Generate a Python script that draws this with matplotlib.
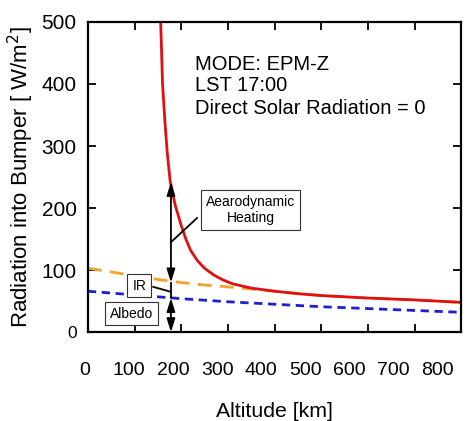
import matplotlib
matplotlib.use('Agg')
import matplotlib.pyplot as plt

plt.rcParams['font.family'] = ['Liberation Sans', 'DejaVu Sans']

# total (aerodynamic + IR + albedo)
alt_total = [156, 160, 165, 170, 176, 187, 200, 210, 220, 235, 250, 270, 290, 310, 350,
             400, 450, 500, 600, 700, 800]
total = [500, 400, 340, 290, 245, 205, 172, 150, 132, 115, 103, 92, 84, 78, 71,
         66, 62, 59, 55, 52, 48]

# IR + albedo
alt_ir = [0, 50, 100, 150, 200, 250, 300, 330, 400, 500, 600, 700, 800]
ir = [103, 97, 91, 85, 80, 76, 73, 71, 66, 59, 55, 52, 48]

# albedo
alt_alb = [0, 100, 200, 300, 400, 500, 600, 700, 800]
albedo = [66, 60, 54, 49, 45, 41, 38, 35, 32]

xticks = [0, 100, 200, 300, 400, 500, 600, 700, 800]
yticks = [0, 100, 200, 300, 400, 500]

fig = plt.figure(figsize=(4.75, 4.21), dpi=100)
ax = fig.add_axes([0.185, 0.211, 0.786, 0.737])

ax.plot(alt_alb, albedo, color='#1f1fcc', lw=2, ls=(0, (3, 2)))
ax.plot(alt_ir, ir, color='#f5a030', lw=2, ls=(0, (5, 3)))
ax.plot(alt_total, total, color='#e01010', lw=2)

ax.set_xlim(0, 800)
ax.set_ylim(0, 500)
ax.set_xticks(xticks)
ax.set_yticks(yticks)
ax.tick_params(direction='in', top=True, right=True, length=6, width=1.3,
               labelsize=15)
ax.tick_params(axis='y', pad=8)
ax.set_xticklabels([])
ax.get_yticklabels()[0].set_fontsize(12.5)
for s in ax.spines.values():
    s.set_linewidth(1.6)

# x tick labels sit a bit compressed toward the left in the original
for v in xticks:
    ax.text(v * 0.944 - 6, -0.125, str(v), fontsize=14, ha='center', va='center',
            transform=ax.get_xaxis_transform())

ax.set_xlabel('Altitude [km]', fontsize=15.3, labelpad=47)
ax.set_ylabel('Radiation into Bumper [ W/m$^2$]', fontsize=16, labelpad=4)

# mode info
ax.text(230, 432, 'MODE: EPM-Z', fontsize=14.5, va='center')
ax.text(230, 397, 'LST 17:00', fontsize=14.5, va='center')
ax.text(230, 360, 'Direct Solar Radiation = 0', fontsize=14.5, va='center')

# annotation arrows
xa = 178
ap = dict(arrowstyle='<|-|>,head_length=0.8,head_width=0.25', color='black', lw=1.3,
          mutation_scale=10, shrinkA=0, shrinkB=0)
ax.annotate('', xy=(xa, 242), xytext=(xa, 80), arrowprops=ap)
ax.plot([xa, xa], [80, 55], color='black', lw=1.3)
ax.annotate('', xy=(xa, 55), xytext=(xa, 0), arrowprops=ap)

box = dict(boxstyle='square,pad=0.35', fc='white', ec='#333333', lw=0.8)
ax.text(349, 197, 'Aearodynamic\nHeating', fontsize=10, ha='center', va='center',
        bbox=box, linespacing=1.15)
ax.plot([234, 178], [184, 145], color='black', lw=1.3)
ax.text(110, 75, 'IR', fontsize=10, ha='center', va='center', bbox=box)
ax.plot([140, 178], [73, 65], color='black', lw=1.3)
ax.text(93, 30, 'Albedo', fontsize=10, ha='center', va='center', bbox=box)

fig.savefig('out.png', dpi=100)
